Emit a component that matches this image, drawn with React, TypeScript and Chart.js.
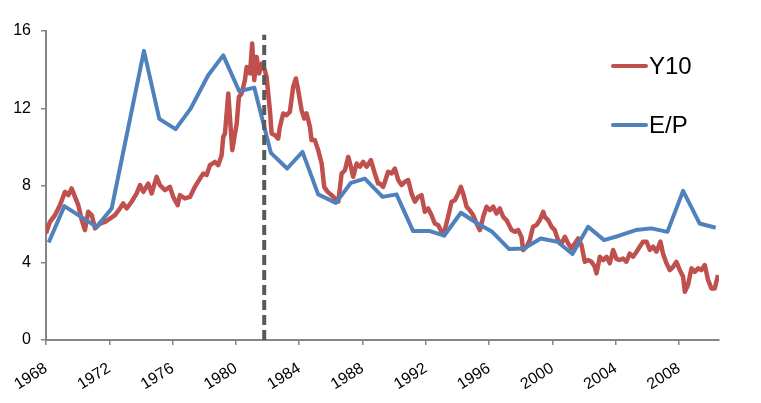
import React, { useEffect, useRef } from "react";
import { Chart, registerables } from "chart.js";

Chart.register(...registerables);

// 10-year Treasury yield (Y10)
const y10Years = [
  1968.0, 1968.25, 1968.57, 1968.88, 1969.2, 1969.41, 1969.62, 1969.83, 1970.04, 1970.26,
  1970.46, 1970.67, 1970.89, 1971.1, 1971.41, 1971.73, 1972.04, 1972.36, 1972.67, 1972.88,
  1973.1, 1973.41, 1973.73, 1973.94, 1974.15, 1974.46, 1974.68, 1974.99, 1975.2, 1975.52,
  1975.83, 1976.04, 1976.32, 1976.46, 1976.78, 1977.1, 1977.41, 1977.73, 1977.94, 1978.15,
  1978.36, 1978.68, 1978.88, 1979.1, 1979.2, 1979.31, 1979.52, 1979.77, 1980.05, 1980.19,
  1980.36, 1980.57, 1980.68, 1980.89, 1981.03, 1981.16, 1981.31, 1981.47, 1981.63, 1981.83,
  1981.94, 1982.15, 1982.26, 1982.47, 1982.67, 1982.78, 1982.99, 1983.2, 1983.41, 1983.62,
  1983.79, 1983.94, 1984.15, 1984.32, 1984.47, 1984.68, 1984.78, 1984.99, 1985.2, 1985.42,
  1985.58, 1985.8, 1986.05, 1986.26, 1986.47, 1986.68, 1986.89, 1987.1, 1987.27, 1987.41,
  1987.63, 1987.84, 1988.04, 1988.26, 1988.53, 1988.78, 1988.99, 1989.1, 1989.31, 1989.62,
  1989.84, 1990.05, 1990.26, 1990.47, 1990.68, 1990.89, 1991.1, 1991.31, 1991.52, 1991.73,
  1991.94, 1992.15, 1992.36, 1992.57, 1992.78, 1993.0, 1993.2, 1993.41, 1993.63, 1993.84,
  1994.05, 1994.22, 1994.36, 1994.58, 1994.78, 1994.99, 1995.21, 1995.42, 1995.63, 1995.84,
  1996.05, 1996.26, 1996.47, 1996.68, 1996.89, 1997.1, 1997.42, 1997.63, 1997.84, 1998.05,
  1998.15, 1998.37, 1998.57, 1998.78, 1999.0, 1999.21, 1999.42, 1999.52, 1999.73, 1999.95,
  2000.15, 2000.36, 2000.58, 2000.79, 2001.0, 2001.21, 2001.42, 2001.63, 2001.84, 2002.05,
  2002.26, 2002.47, 2002.68, 2002.79, 2003.0, 2003.21, 2003.42, 2003.63, 2003.84, 2004.05,
  2004.26, 2004.47, 2004.68, 2004.89, 2005.1, 2005.32, 2005.52, 2005.73, 2005.95, 2006.16,
  2006.37, 2006.58, 2006.83, 2006.99, 2007.21, 2007.42, 2007.63, 2007.84, 2008.05, 2008.26,
  2008.37, 2008.57, 2008.79, 2009.0, 2009.21, 2009.42, 2009.63, 2009.84, 2010.05, 2010.26,
  2010.47,
];
const y10Values = [
  5.52, 6.12, 6.47, 6.98, 7.67, 7.5, 7.85, 7.41, 6.98, 6.21,
  5.69, 6.64, 6.47, 5.78, 6.03, 6.12, 6.29, 6.47, 6.81, 7.07,
  6.81, 7.16, 7.59, 8.02, 7.67, 8.1, 7.59, 8.45, 8.02, 7.76,
  7.93, 7.41, 6.98, 7.5, 7.33, 7.41, 7.93, 8.36, 8.62, 8.54,
  9.05, 9.22, 9.05, 9.57, 10.52, 10.69, 12.76, 9.83, 11.2, 12.59,
  12.76, 13.45, 14.14, 13.8, 15.35, 13.45, 14.66, 13.8, 14.31, 13.97,
  13.62, 11.9, 10.69, 10.6, 10.43, 11.03, 11.73, 11.64, 11.81, 13.1,
  13.54, 12.93, 11.9, 11.47, 11.73, 11.03, 10.35, 10.35, 9.83, 9.14,
  7.93, 7.67, 7.5, 7.33, 7.16, 8.62, 8.79, 9.48, 8.97, 8.45,
  9.14, 8.97, 9.22, 8.97, 9.31, 8.62, 8.1, 8.1, 7.93, 8.71,
  8.62, 8.88, 8.28, 8.02, 8.19, 8.28, 7.59, 7.16, 7.41, 7.5,
  6.64, 6.81, 6.47, 6.03, 5.95, 5.6, 5.69, 6.38, 7.16, 7.24,
  7.59, 7.93, 7.59, 6.9, 6.72, 6.47, 6.03, 5.69, 6.38, 6.9,
  6.72, 6.9, 6.55, 6.81, 6.38, 6.21, 5.69, 5.6, 5.69, 5.34,
  4.66, 4.83, 5.17, 5.86, 5.95, 6.21, 6.64, 6.38, 6.21, 5.86,
  5.69, 5.17, 5.0, 5.34, 5.0, 4.74, 5.0, 5.26, 4.91, 4.05,
  4.14, 4.05, 3.79, 3.45, 4.31, 4.14, 4.31, 3.97, 4.66, 4.2,
  4.14, 4.22, 4.05, 4.48, 4.31, 4.57, 4.83, 5.09, 5.09, 4.66,
  4.83, 4.57, 5.09, 4.48, 3.97, 3.62, 3.79, 4.05, 3.62, 3.28,
  2.5, 2.85, 3.71, 3.53, 3.71, 3.62, 3.88, 3.1, 2.67, 2.67,
  3.36,
];

// Earnings / price (E/P)
const epYears = [
  1968.17, 1969.16, 1971.2, 1972.15, 1974.19, 1975.16, 1976.19, 1977.14, 1978.25, 1979.2,
  1980.21, 1981.16, 1982.21, 1983.24, 1984.21, 1985.2, 1986.32, 1987.27, 1988.15, 1989.27,
  1990.15, 1991.2, 1992.26, 1993.16, 1994.22, 1995.27, 1996.2, 1997.27, 1998.2, 1999.27,
  2000.32, 2001.27, 2002.26, 2003.27, 2004.22, 2005.27, 2006.26, 2007.27, 2008.26, 2009.31,
  2010.32,
];
const epValues = [
  5.05, 6.93, 5.86, 6.81, 14.97, 11.45, 10.92, 11.98, 13.71, 14.74,
  12.88, 13.07, 9.69, 8.88, 9.74, 7.54, 7.1, 8.14, 8.36, 7.41,
  7.54, 5.64, 5.64, 5.4, 6.59, 6.03, 5.6, 4.71, 4.74, 5.26,
  5.09, 4.45, 5.86, 5.17, 5.4, 5.69, 5.78, 5.6, 7.72, 6.03,
  5.81,
];

// Vertical dashed marker
const markerYear = 1981.79;
const markerRange = [0, 15.8];

const xTickYears = [1968, 1972, 1976, 1980, 1984, 1988, 1992, 1996, 2000, 2004, 2008];
const yTickValues = [0, 4, 8, 12, 16];
const xMin = 1968;
const xMax = 2010.53;

const seriesLabels = ["Y10", "E/P"];
const seriesColors = ["#C0504D", "#4F81BD"];
const markerColor = "#595959";
const axisColor = "#868686";
const FONT = "'Liberation Sans', Arial, sans-serif";

const legendPlugin = {
  id: "sideLegend",
  afterDraw(chart: any) {
    const ctx = chart.ctx;
    ctx.save();
    const rows = [66, 125];
    seriesLabels.forEach((label, i) => {
      const y = rows[i];
      ctx.strokeStyle = seriesColors[i];
      ctx.lineWidth = 4;
      ctx.lineCap = "round";
      ctx.beginPath();
      ctx.moveTo(613, y);
      ctx.lineTo(646, y);
      ctx.stroke();
      ctx.fillStyle = "#000";
      ctx.font = `24px ${FONT}`;
      ctx.textBaseline = "middle";
      ctx.textAlign = "left";
      ctx.fillText(label, 649, y + 1);
    });
    ctx.restore();
  },
};

export default function App() {
  const ref = useRef<HTMLCanvasElement | null>(null);

  useEffect(() => {
    if (!ref.current) return;
    const chart = new Chart(ref.current, {
      type: "line",
      data: {
        datasets: [
          {
            label: "marker",
            data: markerRange.map((v) => ({ x: markerYear, y: v })),
            borderColor: markerColor,
            borderWidth: 4,
            borderDash: [10, 5],
            pointRadius: 0,
            order: 1,
          },
          {
            label: seriesLabels[1],
            data: epYears.map((x, i) => ({ x, y: epValues[i] })),
            borderColor: seriesColors[1],
            borderWidth: 4,
            pointRadius: 0,
            tension: 0,
            borderJoinStyle: "round",
            order: 2,
          },
          {
            label: seriesLabels[0],
            data: y10Years.map((x, i) => ({ x, y: y10Values[i] })),
            borderColor: seriesColors[0],
            borderWidth: 4.5,
            pointRadius: 0,
            tension: 0,
            borderJoinStyle: "round",
            order: 3,
          },
        ],
      },
      options: {
        animation: false,
        responsive: false,
        devicePixelRatio: 1,
        layout: { padding: { top: 31, right: 42, left: 0, bottom: 0 } },
        plugins: { legend: { display: false }, tooltip: { enabled: false } },
        scales: {
          x: {
            type: "linear",
            min: xMin,
            max: xMax,
            afterFit: (s: any) => {
              s.height = 63;
            },
            afterBuildTicks: (s: any) => {
              s.ticks = xTickYears.map((v) => ({ value: v }));
            },
            grid: {
              drawOnChartArea: false,
              drawTicks: true,
              tickLength: 5,
              color: axisColor,
              lineWidth: 1.5,
            },
            border: { color: axisColor, width: 2 },
            ticks: {
              autoSkip: false,
              minRotation: 32,
              maxRotation: 32,
              padding: 14,
              color: "#000",
              font: { family: FONT, size: 16 },
              callback: (v: any) => String(v),
            },
          },
          y: {
            min: 0,
            max: 16,
            afterFit: (s: any) => {
              s.width = 46;
            },
            afterBuildTicks: (s: any) => {
              s.ticks = yTickValues.map((v) => ({ value: v }));
            },
            grid: {
              drawOnChartArea: false,
              drawTicks: true,
              tickLength: 5,
              color: axisColor,
              lineWidth: 1.5,
            },
            border: { color: axisColor, width: 2 },
            ticks: {
              padding: 10,
              color: "#000",
              font: { family: FONT, size: 16 },
              callback: (v: any) => String(v),
            },
          },
        },
      },
      plugins: [legendPlugin],
    });
    return () => chart.destroy();
  }, []);

  return (
    <div style={{ position: "fixed", left: 0, top: 0, width: 761, height: 403, background: "#fff" }}>
      <canvas ref={ref} width={761} height={403} />
    </div>
  );
}
